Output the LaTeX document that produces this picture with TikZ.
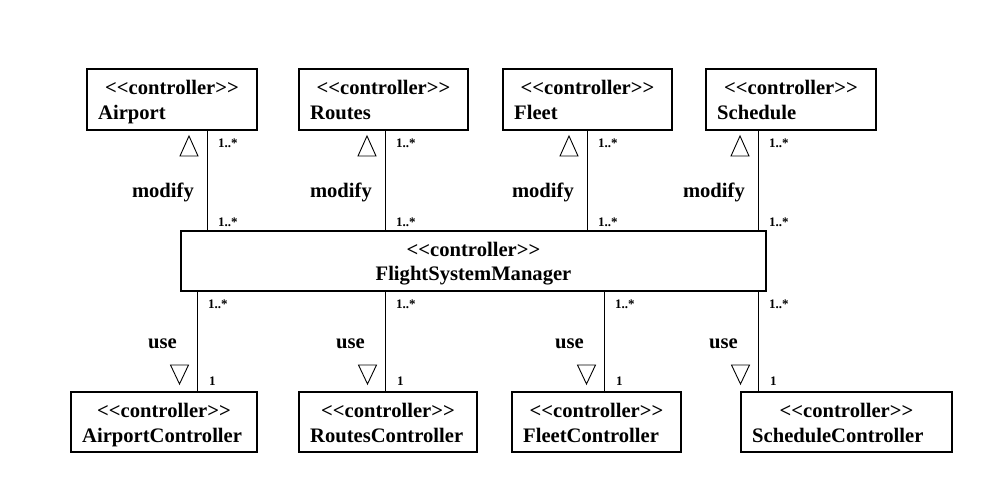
\documentclass[tikz,border=0pt]{standalone}
\usepackage{fontspec}
\setmainfont{Liberation Serif}[Ligatures=TeXOff]
\usetikzlibrary{calc}
\begin{document}
\begin{tikzpicture}[x=1pt,y=-1pt,
  box/.style={draw,line width=1.2pt,inner sep=0pt,outer sep=0pt,minimum height=61pt,anchor=north west},
  big/.style={font=\fontsize{20.6}{23}\selectfont\bfseries,inner sep=0pt,anchor=base},
  bigl/.style={big,anchor=base west},
  lbl/.style={big,anchor=base east},
  small/.style={font=\fontsize{13}{15}\selectfont\bfseries,inner sep=0pt,anchor=base west},
  conn/.style={line width=1pt},
  tri/.style={line width=0.9pt,line join=miter}]
\useasboundingbox (0,0) rectangle (983,498);

% boxes
\node[box,minimum width=170pt] (airport) at (87,69) {};
\node[box,minimum width=169pt] (routes) at (299,69) {};
\node[box,minimum width=169pt] (fleet) at (503,69) {};
\node[box,minimum width=170pt] (schedule) at (706,69) {};
\node[box,minimum width=585pt,minimum height=60pt] (fsm) at (181,231) {};
\node[box,minimum width=186pt,minimum height=60pt] (airportc) at (71,392) {};
\node[box,minimum width=178pt,minimum height=60pt] (routesc) at (299,392) {};
\node[box,minimum width=169pt,minimum height=60pt] (fleetc) at (512,392) {};
\node[box,minimum width=211pt,minimum height=60pt] (schedulec) at (741,392) {};

% texts
\foreach \b/\n in {airport/Airport,routes/Routes,fleet/Fleet,schedule/Schedule}{
  \node[big] (\b-st) at ($(\b.north)+(0,25)$) {<<controller>>};
  \node[bigl] (\b-nm) at ($(\b.north west)+(11,50)$) {\n};
}
\node[big] (fsm-st) at ($(fsm.north)+(0,25)$) {<<controller>>};
\node[big] (fsm-nm) at ($(fsm.north)+(0,49)$) {FlightSystemManager};
\foreach \b/\n in {airportc/AirportController,routesc/RoutesController,fleetc/FleetController,schedulec/ScheduleController}{
  \node[big] (\b-st) at ($(\b.north)+(0,25)$) {<<controller>>};
  \node[bigl] (\b-nm) at ($(\b.north west)+(11,50)$) {\n};
}

% connector columns
\coordinate (ta) at (207,0);
\coordinate (tb) at (385,0);
\coordinate (tc) at (587,0);
\coordinate (td) at (758,0);
\coordinate (ba) at (197,0);
\coordinate (bb) at (385,0);
\coordinate (bc) at (604,0);
\coordinate (bd) at (758,0);

% modify connectors
\foreach \b/\c in {airport/ta,routes/tb,fleet/tc,schedule/td}{
  \draw[conn] (\b.south -| \c) -- (fsm.north -| \c);
  \node[small] at ($(\b.south -| \c)+(11,17)$) {1..*};
  \node[small] at ($(fsm.north -| \c)+(11,-5)$) {1..*};
  \node[lbl] at ($(\b.south -| \c)+(-13,67)$) {modify};
  \draw[tri] ($(\b.south -| \c)+(-27,26)$) -- ++(18,0) -- ++(-9,-20) -- cycle;
}

% use connectors
\foreach \b/\c in {airportc/ba,routesc/bb,fleetc/bc,schedulec/bd}{
  \draw[conn] (fsm.south -| \c) -- (\b.north -| \c);
  \node[small] at ($(fsm.south -| \c)+(11,17)$) {1..*};
  \node[small] at ($(\b.north -| \c)+(12,-7)$) {1};
  \node[lbl] at ($(fsm.south -| \c)+(-20,57)$) {use};
  \draw[tri] ($(\b.north -| \c)+(-26.5,-27)$) -- ++(18,0) -- ++(-9,19) -- cycle;
}
\end{tikzpicture}
\end{document}
